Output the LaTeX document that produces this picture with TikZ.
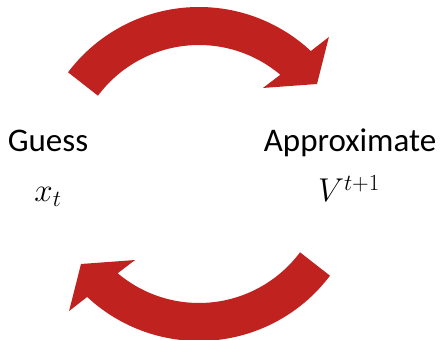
\RequirePackage{fix-cm}
\documentclass[tikz,border=0pt]{standalone}
\usepackage{fontspec}
\setmainfont{Carlito}
\usepackage{xcolor}
\usetikzlibrary{calc}

\definecolor{cyclered}{RGB}{192,34,32}

\begin{document}
\begin{tikzpicture}[
    x=1pt, y=1pt,
    wordtxt/.style={font=\fontsize{33}{40}\selectfont, anchor=base, inner sep=0pt},
    cyclearrow/.style={fill=cyclered, draw=none}
]
    \useasboundingbox (0,0) rectangle (440,340);
    \coordinate (topc) at (199,169);
    \coordinate (botc) at (199,163);

    \node [wordtxt] (guess) at (48,188) {Guess};
    \node [wordtxt] (xt) at (48,138) {$x_t$};
    \node [wordtxt] (approx) at (350,188) {Approximate};
    \node [wordtxt] (vt) at (349,138) {$V^{t+1}$};

    % upper arrow, guess -> approximate
    \fill [cyclearrow] ($(topc)+(143:164)$) arc [start angle=143, end angle=47, radius=164]
        -- ($(topc)+(45.9:186.7)$) -- ($(topc)+(36.4:146.6)$)
        -- ($(topc)+(52.4:104.8)$) -- ($(topc)+(49.8:126)$)
        arc [start angle=49.8, end angle=143.3, radius=126] -- cycle;

    % lower arrow, approximate -> guess
    \fill [cyclearrow] ($(botc)+(323:164)$) arc [start angle=323, end angle=227, radius=164]
        -- ($(botc)+(225.9:186.7)$) -- ($(botc)+(216.4:146.6)$)
        -- ($(botc)+(232.4:104.8)$) -- ($(botc)+(229.8:126)$)
        arc [start angle=229.8, end angle=323.3, radius=126] -- cycle;
\end{tikzpicture}
\end{document}
